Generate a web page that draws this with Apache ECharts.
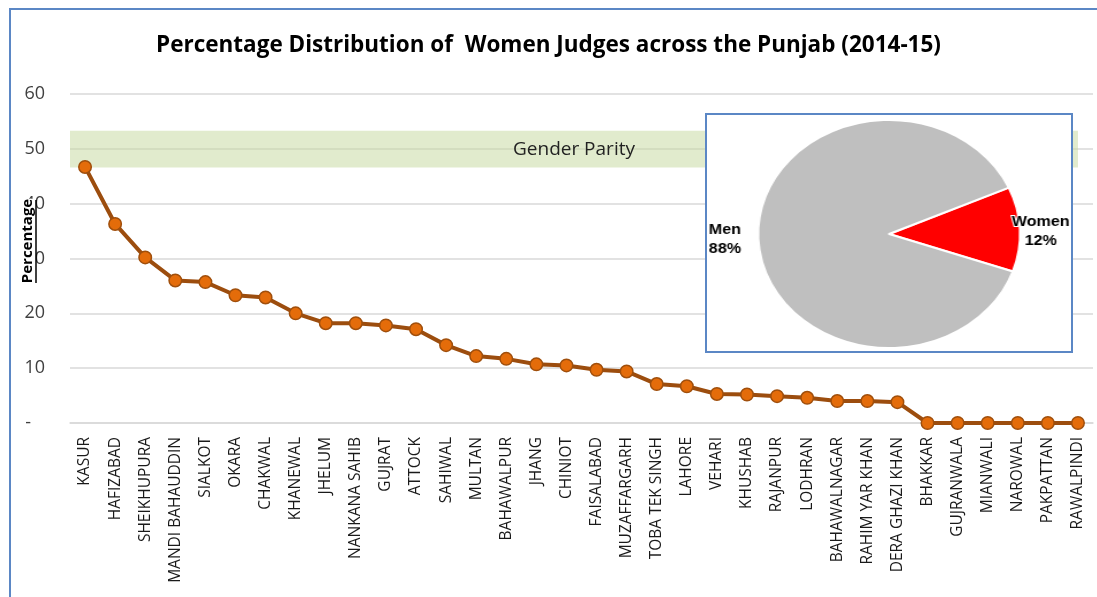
<!DOCTYPE html>
<html>
<head>
<meta charset="utf-8">
<script src="https://cdn.jsdelivr.net/npm/echarts@6/dist/echarts.min.js"></script>
<style>
  html, body { margin: 0; padding: 0; background: #fff; }
  #main { position: absolute; left: 0; top: 0; width: 1097px; height: 597px; }
  #inset {
    position: absolute; left: 705px; top: 113px; width: 368px; height: 240px;
    border: 2px solid #5b87c5; box-sizing: border-box; background: #fff; overflow: hidden;
  }
  #pie {
    position: absolute; left: 0; top: 0; width: 317px; height: 236px;
    transform: scaleX(1.149); transform-origin: 0 0;
  }
</style>
</head>
<body>
<div id="main"></div>
<div id="inset"><div id="pie"></div></div>
<script>
// districts, sorted by share of women judges
const districts = [
  'KASUR', 'HAFIZABAD', 'SHEIKHUPURA', 'MANDI BAHAUDDIN', 'SIALKOT', 'OKARA',
  'CHAKWAL', 'KHANEWAL', 'JHELUM', 'NANKANA SAHIB', 'GUJRAT', 'ATTOCK',
  'SAHIWAL', 'MULTAN', 'BAHAWALPUR', 'JHANG', 'CHINIOT', 'FAISALABAD',
  'MUZAFFARGARH', 'TOBA TEK SINGH', 'LAHORE', 'VEHARI', 'KHUSHAB', 'RAJANPUR',
  'LODHRAN', 'BAHAWALNAGAR', 'RAHIM YAR KHAN', 'DERA GHAZI KHAN', 'BHAKKAR',
  'GUJRANWALA', 'MIANWALI', 'NAROWAL', 'PAKPATTAN', 'RAWALPINDI'
];
const womenPct = [
  46.7, 36.3, 30.2, 26.0, 25.7, 23.3,
  22.9, 20.0, 18.2, 18.2, 17.8, 17.1,
  14.2, 12.2, 11.7, 10.7, 10.5, 9.7,
  9.4, 7.1, 6.7, 5.3, 5.2, 4.9,
  4.6, 4.0, 4.0, 3.8, 0,
  0, 0, 0, 0, 0
];
const parityBand = [46.6, 53.3];
const genderSplit = [
  { name: 'Women', value: 12 },
  { name: 'Men', value: 88 }
];

const chart = echarts.init(document.getElementById('main'));
chart.setOption({
  animation: false,
  title: {
    text: 'Percentage Distribution of  Women Judges across the Punjab (2014-15)',
    left: 'center',
    top: 29,
    textStyle: { fontFamily: 'Open Sans', fontWeight: 'bold', fontSize: 22.5, color: '#000' }
  },
  graphic: [
    {
      type: 'rect',
      shape: { x: 10, y: 9, width: 1200, height: 700 },
      style: { fill: 'none', stroke: '#5b87c5', lineWidth: 2 },
      silent: true
    },
    {
      type: 'text',
      x: 28, y: 241, rotation: Math.PI / 2,
      style: {
        text: 'Percentage', fontFamily: 'Open Sans', fontWeight: 'bold', fontSize: 15,
        fill: '#000', align: 'center', verticalAlign: 'middle',
        backgroundColor: '#fff'
      },
      z: 10
    },
    {
      type: 'line',
      shape: { x1: 36, y1: 200, x2: 36, y2: 283 },
      style: { stroke: '#000', lineWidth: 1.5 },
      z: 10
    }
  ],
  grid: { left: 70, right: 4, top: 94, bottom: 174, containLabel: false },
  xAxis: {
    type: 'category',
    data: districts,
    boundaryGap: true,
    axisTick: { show: false },
    axisLine: { lineStyle: { color: '#d9d9d9', width: 1.5 } },
    axisLabel: {
      rotate: 90, interval: 0, margin: 14,
      fontFamily: 'Open Sans', fontSize: 15.5, color: '#1a1a1a'
    }
  },
  yAxis: {
    type: 'value',
    min: 0, max: 60, interval: 10,
    axisLine: { show: false },
    axisTick: { show: false },
    splitLine: { lineStyle: { color: '#d9d9d9', width: 1.5 } },
    axisLabel: {
      margin: 25, align: 'right',
      fontFamily: 'Open Sans', fontSize: 18, color: '#404040',
      formatter: v => (v === 0 ? '-   ' : String(v))
    }
  },
  series: [{
    type: 'line',
    data: womenPct,
    symbol: 'circle',
    symbolSize: 12.5,
    lineStyle: { color: '#9c4d0e', width: 4 },
    itemStyle: { color: '#e46c0a', borderColor: '#a04f0c', borderWidth: 1.5 },
    z: 3,
    markArea: {
      silent: true,
      itemStyle: { color: 'rgba(196,215,155,0.5)' },
      label: {
        show: true, position: 'inside',
        fontFamily: 'Open Sans', fontSize: 19, color: '#222'
      },
      data: [[
        { name: 'Gender Parity', yAxis: parityBand[0] },
        { xAxis: districts[districts.length - 1], yAxis: parityBand[1] }
      ]]
    }
  }]
});

const pie = echarts.init(document.getElementById('pie'));
pie.setOption({
  animation: false,
  series: [{
    type: 'pie',
    center: ['50%', 119],
    radius: 114,
    startAngle: 24,
    data: genderSplit,
    color: ['#ff0000', '#bfbfbf'],
    itemStyle: { borderColor: '#fff', borderWidth: 2 },
    label: {
      show: true,
      position: 'outside',
      overflow: 'none',
      formatter: '{b}\n{d}%',
      fontFamily: 'Liberation Sans', fontWeight: 'bold', fontSize: 14,
      lineHeight: 19, color: '#000',
      textBorderColor: '#fff', textBorderWidth: 2
    },
    labelLine: { show: false, length: 8, length2: 0 },
    labelLayout: p => (p.dataIndex === 0
      ? { align: 'center', dx: 5, dy: 3 }
      : { align: 'center', dx: -16, dy: 1 })
  }]
});
</script>
</body>
</html>
